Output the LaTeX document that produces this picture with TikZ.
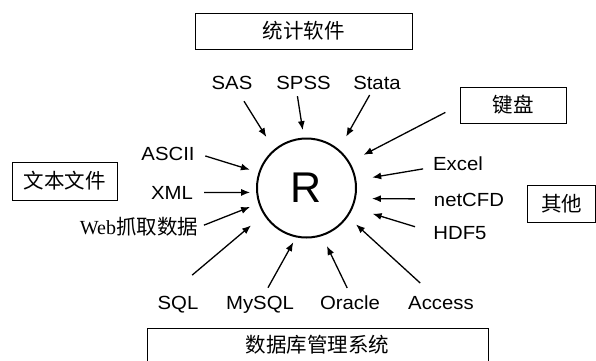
\documentclass[tikz,border=0pt]{standalone}
\usepackage{fontspec}
\setmainfont{Liberation Serif}
\newfontfamily\cjk{Noto Sans CJK SC}
\newfontfamily\lab{Liberation Sans}[FakeStretch=1.07]
\newfontfamily\bigR{Liberation Sans}
\usetikzlibrary{arrows.meta}

\begin{document}
\begin{tikzpicture}[x=1pt,y=-1pt,
  box/.style={rectangle,draw,line width=0.8pt,inner sep=0pt,font=\cjk\fontsize{20.5}{24}\selectfont},
  src/.style={inner sep=1pt,text height=14pt,text depth=0pt,font=\lab\fontsize{19}{22}\selectfont},
  feed/.style={-{Latex[length=9pt,width=7pt]},line width=1.3pt}]
  \useasboundingbox (0,0) rectangle (596,360);
  \node[circle,draw,line width=2pt,minimum size=99pt,inner sep=0pt,font=\bigR\fontsize{43}{50}\selectfont] (R) at (306.5,188) {R};

  \node[box,minimum width=217pt,minimum height=36pt] (stat) at (303.5,31) {统计软件};
  \node[box,minimum width=105pt,minimum height=38pt] (txt) at (64.5,181) {文本文件};
  \node[box,minimum width=106pt,minimum height=36pt] (kb) at (513,105) {键盘};
  \node[box,minimum width=68pt,minimum height=37pt] (oth) at (561.5,203.5) {其他};
  \node[box,minimum width=341pt,minimum height=34pt] (db) at (317.5,345) {数据库管理系统};

  \node[src] (sas) at (232,82) {SAS};
  \node[src] (spss) at (303.5,82) {SPSS};
  \node[src] (stata) at (377,82) {Stata};
  \node[src] (ascii) at (168,153) {ASCII};
  \node[src] (xml) at (172,192.5) {XML};
  \node[src,font=\fontsize{20}{24}\selectfont] (web) at (139,227) {Web{\cjk\fontsize{20.5}{24}\selectfont 抓取数据}};
  \node[src] (excel) at (458,163) {Excel};
  \node[src] (net) at (469,199) {netCFD};
  \node[src] (hdf) at (460,232) {HDF5};
  \node[src] (sql) at (178,302) {SQL};
  \node[src] (mysql) at (260,302) {MySQL};
  \node[src] (ora) at (350,302) {Oracle};
  \node[src] (acc) at (441,302) {Access};

  \path[feed]
    (sas) edge[shorten <=13pt,shorten >=14.5pt] (R.130)
    ([xshift=-7pt]spss.south) edge[shorten <=6pt,shorten >=7.5pt] (R.93.5)
    (stata) edge[shorten <=5.5pt,shorten >=14.5pt] (R.50)
    (kb.west) edge[shorten <=16pt,shorten >=15.5pt] (R.31)
    (excel) edge[shorten <=9pt,shorten >=16pt] (R.9.5)
    (net.west) edge[shorten <=18pt,shorten >=16pt] (R.-12)
    (hdf.west) edge[shorten <=18pt,shorten >=20.5pt] (R.-23)
    (acc) edge[shorten <=16pt,shorten >=11pt] (R.-35)
    (ora.north) edge[shorten <=6.5pt,shorten >=11pt] (R.-72.5)
    (mysql) edge[shorten <=7pt,shorten >=5.5pt] (R.-102)
    ([xshift=-8pt]sql.north) edge[shorten <=29pt,shorten >=16.5pt] (R.212)
    (web.east) edge[shorten <=5pt,shorten >=9pt] (R.198.5)
    (xml) edge[shorten <=10pt,shorten >=6pt] (R.185)
    (ascii.east) edge[shorten <=10pt,shorten >=9pt] (R.162);
\end{tikzpicture}
\end{document}
